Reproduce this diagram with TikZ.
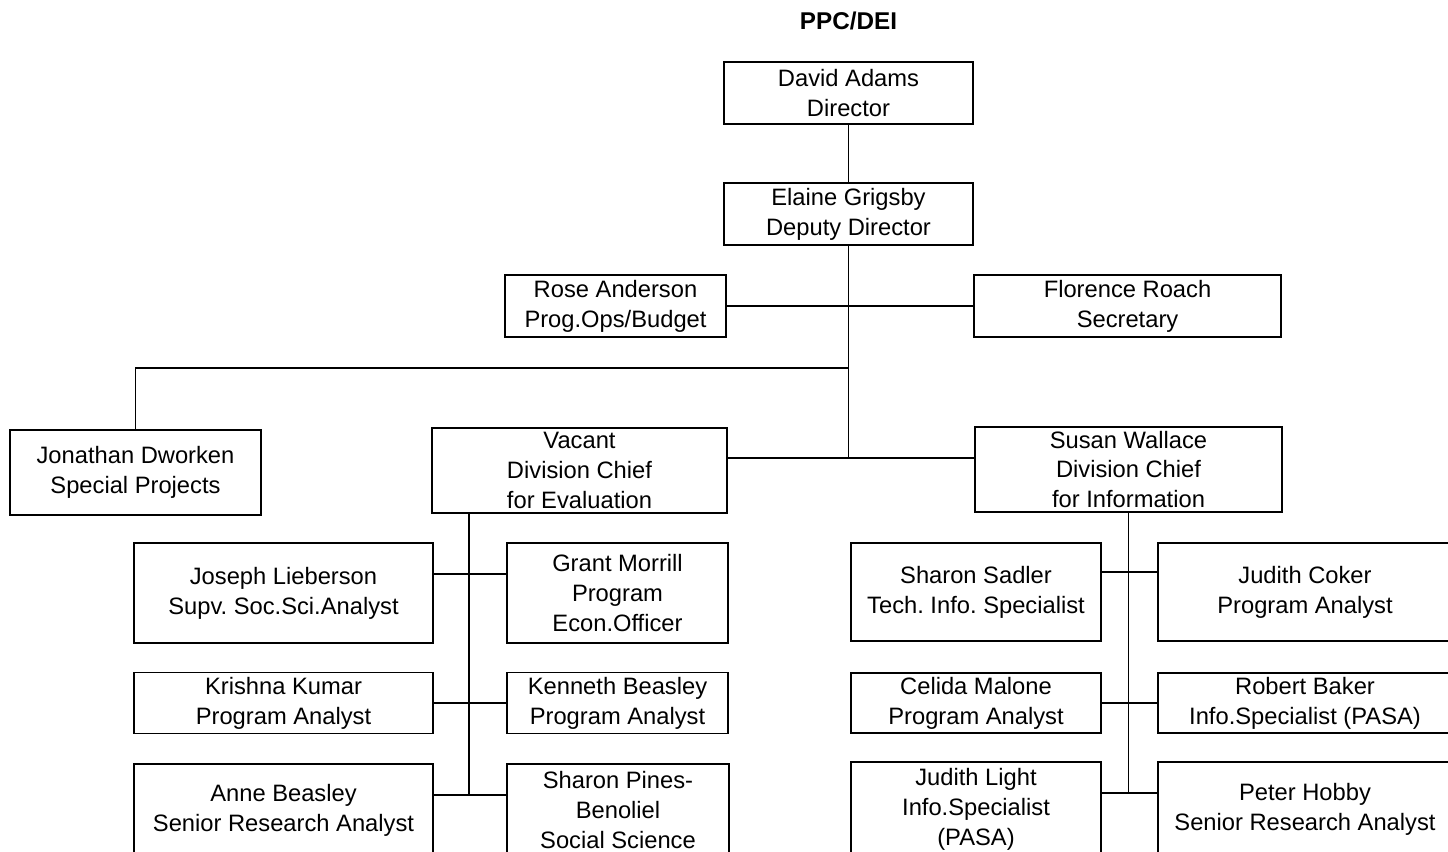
\documentclass[tikz,border=0pt]{standalone}
\usepackage{fontspec}
\setmainfont{Liberation Sans}
\usepackage{tikz}
\usetikzlibrary{positioning, calc}
\tikzstyle{person} = [rectangle, draw=black, line width=1pt, fill=white, align=center, inner sep=0pt, font=\fontsize{13.5}{17}\selectfont]
\tikzstyle{link} = [line width=1pt, black]

\begin{document}
\begin{tikzpicture}
    \clip (0,0) rectangle (28.96,-17.04);
    \fill[white] (0,0) rectangle (28.96,-17.04);

    % Title
    \node[font=\bfseries\fontsize{13.8}{16}\selectfont] (title) at (16.97,-0.42) {PPC/DEI};

    % Direction
    \node[person, minimum width=4.98cm, minimum height=1.24cm] (dir) at (16.97,-1.86) {David Adams\\Director};
    \node[person, minimum width=4.98cm, minimum height=1.24cm] (dep) at (16.97,-4.28) {Elaine Grigsby\\Deputy Director};

    % Staff
    \node[person, minimum width=4.42cm, minimum height=1.24cm] (rose) at (12.31,-6.12) {Rose Anderson\\Prog.Ops/Budget};
    \node[person, minimum width=6.14cm, minimum height=1.24cm] (flor) at (22.55,-6.12) {Florence Roach\\Secretary};

    % Divisions
    \node[person, minimum width=5.02cm, minimum height=1.70cm] (jon) at (2.71,-9.45) {Jonathan Dworken\\Special Projects};
    \node[person, minimum width=5.90cm, minimum height=1.70cm] (vac) at (11.59,-9.41) {Vacant\\Division Chief\\for Evaluation};
    \node[person, minimum width=6.14cm, minimum height=1.70cm] (sus) at (22.57,-9.39) {Susan Wallace\\Division Chief\\for Information};

    % Evaluation staff
    \node[person, minimum width=5.98cm, minimum height=2.00cm] (jos) at (5.67,-11.86) {Joseph Lieberson\\Supv.\ Soc.Sci.Analyst};
    \node[person, minimum width=4.42cm, minimum height=2.00cm] (gra) at (12.35,-11.86) {Grant Morrill\\Program\\Econ.Officer};
    \node[person, minimum width=5.98cm, minimum height=1.22cm] (kri) at (5.67,-14.06) {Krishna Kumar\\Program Analyst};
    \node[person, minimum width=4.42cm, minimum height=1.22cm] (ken) at (12.35,-14.06) {Kenneth Beasley\\Program Analyst};
    \node[person, minimum width=5.98cm, minimum height=1.84cm] (ann) at (5.67,-16.20) {Anne Beasley\\Senior Research Analyst};
    \node[person, minimum width=4.44cm, minimum height=1.84cm] (pin) at (12.36,-16.20) {Sharon Pines-\\Benoliel\\Social Science};

    % Information staff
    \node[person, minimum width=5.00cm, minimum height=1.96cm] (sad) at (19.52,-11.84) {Sharon Sadler\\Tech.\ Info.\ Specialist};
    \node[person, minimum width=5.88cm, minimum height=1.96cm] (cok) at (26.10,-11.84) {Judith Coker\\Program Analyst};
    \node[person, minimum width=5.00cm, minimum height=1.20cm] (cel) at (19.52,-14.06) {Celida Malone\\Program Analyst};
    \node[person, minimum width=5.88cm, minimum height=1.20cm] (rob) at (26.10,-14.06) {Robert Baker\\Info.Specialist (PASA)};
    \node[person, minimum width=5.00cm, minimum height=1.88cm] (lig) at (19.52,-16.18) {Judith Light\\Info.Specialist\\(PASA)};
    \node[person, minimum width=5.88cm, minimum height=1.88cm] (hob) at (26.10,-16.18) {Peter Hobby\\Senior Research Analyst};

    % Junctions
    \coordinate (jspec) at (16.97,-7.36);
    \coordinate (jdiv) at (16.97,-9.16);
    \coordinate (evend) at (9.38,-15.90);
    \coordinate (inend) at (22.57,-15.86);

    % Top links
    \draw[link] (dir) -- (dep);
    \draw[link] (dep) -- (jdiv);
    \draw[link] (rose) -- (flor);
    \draw[link] (jspec) -| (jon);
    \draw[link] (vac.east |- jdiv) -- (sus.west |- jdiv);

    % Evaluation links
    \draw[link] (vac.south -| evend) -- (evend);
    \draw[link] ([yshift=0.38cm]jos.east) -- ([yshift=0.38cm]gra.west);
    \draw[link] (kri) -- (ken);
    \draw[link] ([yshift=0.30cm]ann.east) -- ([yshift=0.30cm]pin.west);

    % Information links
    \draw[link] (sus) -- (inend);
    \draw[link] ([yshift=0.40cm]sad.east) -- ([yshift=0.40cm]cok.west);
    \draw[link] (cel) -- (rob);
    \draw[link] ([yshift=0.32cm]lig.east) -- ([yshift=0.32cm]hob.west);
\end{tikzpicture}
\end{document}
